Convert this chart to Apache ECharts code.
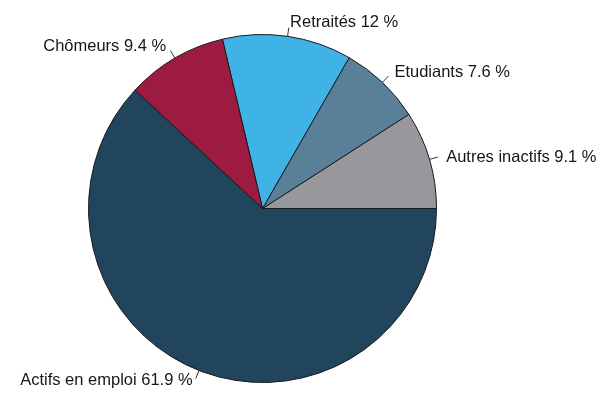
<!DOCTYPE html>
<html>
<head>
<meta charset="utf-8">
<script src="https://cdn.jsdelivr.net/npm/echarts@6/dist/echarts.min.js"></script>
<style>
  html, body { margin: 0; padding: 0; background: #ffffff; }
  #chart { width: 597px; height: 393px; }
</style>
</head>
<body>
<div id="chart"></div>
<script>
// Population by activity status (shares in %), drawn counter-clockwise from 3 o'clock
const categories = ['Autres inactifs', 'Etudiants', 'Retraités', 'Chômeurs', 'Actifs en emploi'];
const shares = [9.1, 7.6, 12, 9.4, 61.9];
const sliceColors = ['#98989c', '#5a7f98', '#3fb3e6', '#9d1a40', '#22455e'];

const chart = echarts.init(document.getElementById('chart'), null, { renderer: 'canvas' });

const CENTER = [262.5, 208.5];
const R = 174;
const FONT = 'Liberation Sans, Arial, sans-serif';
const FONT_SIZE = 16.5;

const labelText = p => p.name + ' ' + p.value + ' %';

chart.setOption({
  animation: false,
  backgroundColor: '#ffffff',
  series: [
    {
      // slices plus a short tick from the rim to 1.05 r
      type: 'pie',
      center: CENTER,
      radius: R,
      startAngle: 0,
      clockwise: false,
      avoidLabelOverlap: false,
      data: categories.map((name, i) => ({
        name: name, value: shares[i], itemStyle: { color: sliceColors[i] }
      })),
      itemStyle: { borderColor: '#1a1a1a', borderWidth: 1 },
      label: {
        show: true,
        position: 'outside',
        fontFamily: FONT,
        fontSize: 1,
        color: 'rgba(255,255,255,0)',
        distanceToLabelLine: 0,
        formatter: ' '
      },
      labelLine: {
        show: true,
        length: R * 0.05,
        length2: 0,
        lineStyle: { color: '#333333', width: 1 }
      },
      labelLayout: { hideOverlap: false },
      emphasis: { disabled: true }
    },
    {
      // transparent copy carrying the text, anchored at 1.1 r
      type: 'pie',
      center: CENTER,
      radius: R,
      startAngle: 0,
      clockwise: false,
      avoidLabelOverlap: false,
      z: 3,
      data: categories.map((name, i) => ({
        name: name,
        value: shares[i],
        // the bottom label sits a little closer to the rim
        label: i === categories.length - 1 ? { offset: [0, -6] } : undefined
      })),
      itemStyle: { color: 'transparent', borderWidth: 0 },
      label: {
        show: true,
        position: 'outside',
        fontFamily: FONT,
        fontSize: FONT_SIZE,
        color: '#161616',
        offset: [0, 3],
        distanceToLabelLine: 0,
        formatter: labelText
      },
      labelLine: {
        show: true,
        length: R * 0.1,
        length2: 0,
        lineStyle: { color: 'transparent', width: 0 }
      },
      labelLayout: { hideOverlap: false },
      emphasis: { disabled: true }
    }
  ]
});
</script>
</body>
</html>
